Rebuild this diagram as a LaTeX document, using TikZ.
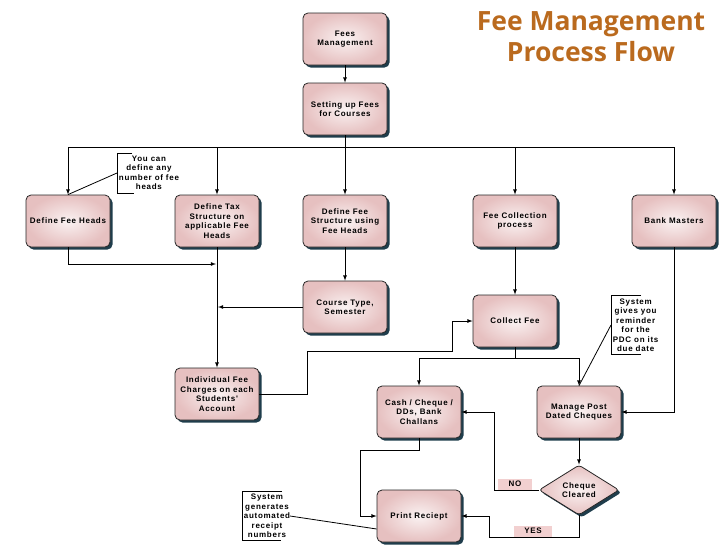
\documentclass[tikz,border=0pt]{standalone}
\usepackage{fontspec}
\newfontfamily\boxfont[LetterSpace=9]{Liberation Sans}
\newfontfamily\titlefont{Open Sans}
\usetikzlibrary{shapes.geometric,shadows}
\definecolor{boxpink}{HTML}{E6C0C0}
\definecolor{boxlight}{HTML}{FAF2F2}
\definecolor{shadowblue}{HTML}{1F3D4C}
\definecolor{titleorange}{HTML}{BA6A1E}
\definecolor{tagpink}{HTML}{F2D0D0}
\tikzset{%
  procbox/.style  = {shape=rectangle, rounded corners=5pt,%
                     draw=black!85, line width=0.8pt, align=center,%
                     minimum width=84pt, minimum height=52pt, inner sep=1pt,%
                     inner color=boxlight, outer color=boxpink,%
                     drop shadow={shadow xshift=2.5pt, shadow yshift=-2.5pt,%
                                  fill=shadowblue, opacity=1}},%
  decision/.style = {procbox, shape=diamond, rounded corners=3pt, aspect=1.6,%
                     minimum width=80pt, minimum height=50pt},%
  note/.style     = {align=center, inner xsep=1.5pt, inner ysep=2.5pt, anchor=west},%
  tag/.style      = {fill=tagpink, minimum width=34pt, minimum height=11pt, inner sep=0pt},%
  title/.style    = {font=\titlefont\bfseries\fontsize{26.5}{31}\selectfont,%
                     text=titleorange, align=center}%
}

\begin{document}
\begin{tikzpicture}[x=1pt,y=-1pt,>=latex,line width=0.8pt,every node/.style={font=\boxfont\bfseries\fontsize{8}{9.5}\selectfont}]
		\useasboundingbox (0,0) rectangle (728,546);
		% boxes
		\node[procbox] (fm) at (345,39) {Fees\\Management};
		\node[procbox] (setup) at (345,109) {Setting up Fees\\for Courses};
		\node[procbox] (fh) at (68,221) {Define Fee Heads};
		\node[procbox] (tax) at (217,221) {Define Tax\\Structure on\\applicable Fee\\Heads};
		\node[procbox] (fs) at (345,221) {Define Fee\\Structure using\\Fee Heads};
		\node[procbox] (fc) at (515,221) {Fee Collection\\process};
		\node[procbox] (bank) at (674,221) {Bank Masters};
		\node[procbox] (ct) at (345,307) {Course Type,\\Semester};
		\node[procbox] (ind) at (217,394) {Individual Fee\\Charges on each\\Students'\\Account};
		\node[procbox] (cf) at (515,321) {Collect Fee};
		\node[procbox] (cash) at (419,412) {Cash / Cheque /\\DDs, Bank\\Challans};
		\node[procbox] (pdc) at (579,412) {Manage Post\\Dated Cheques};
		\node[decision] (chq) at (579,490) {Cheque\\Cleared};
		\node[procbox] (pr) at (419,516) {Print Reciept};
		% notes
		\node[note] (n1) at (117,173) {You can\\define any\\number of fee\\heads};
		\node[note] (n2) at (611,325) {System\\gives you\\reminder\\for the\\PDC on its\\due date};
		\node[note] (n3) at (242,516) {System\\generates\\automated\\receipt\\numbers};
		\draw ([xshift=15pt]n1.north west) -- (n1.north west) -- (n1.south west) -- ([xshift=17pt]n1.south west);
		\draw ([xshift=30pt]n2.north west) -- (n2.north west) -- (n2.south west) -- ([xshift=30pt]n2.south west);
		\draw ([xshift=40pt]n3.north west) -- (n3.north west) -- (n3.south west) -- ([xshift=39pt]n3.south west);
		\draw (n1.west) -- (fh.north);
		\draw (n2.west) -- (pdc.north);
		\draw ([xshift=-2pt]n3.east) -- ([yshift=-13pt]pr.west);
		% junctions
		\coordinate (bus) at (345,147);
		\coordinate (split) at (515,358);
		% connectors
		\draw[->] (fm) -- (setup);
		\draw[->] (setup) -- (fs);
		\draw[->] (bus) -| (fh.north);
		\draw[->] (bus) -| (tax.north);
		\draw[->] (bus) -| (fc.north);
		\draw[->] (bus) -| (bank.north);
		\draw[->] (fh.south) |- (216,264);
		\draw[->] (tax) -- (ind);
		\draw[->] (fs) -- (ct);
		\draw[->] (ct.west) -- (218,307);
		\draw[->] (fc) -- (cf);
		\draw[->] (ind.east) -| (307,351) -| (452,321) -- (cf.west);
		\draw (cf.south) -- (split);
		\draw[->] (split) -| (cash.north);
		\draw[->] (split) -| (pdc.north);
		\draw[->] (bank.south) |- (pdc.east);
		\draw[->] (pdc) -- (chq);
		\draw[->] (chq.west) -| (494,412) -- (cash.east);
		\draw[->] (chq.south) |- (489,537) |- (pr.east);
		\draw[->] (cash.south) |- (360,450) |- (pr.west);
		% labels
		\node[tag] (no) at (515,484) {NO};
		\node[tag, minimum width=38pt] (yes) at (533,531) {YES};
		\node[title] (ttl) at (591,37) {Fee Management\\Process Flow};
		\end{tikzpicture}
\end{document}
